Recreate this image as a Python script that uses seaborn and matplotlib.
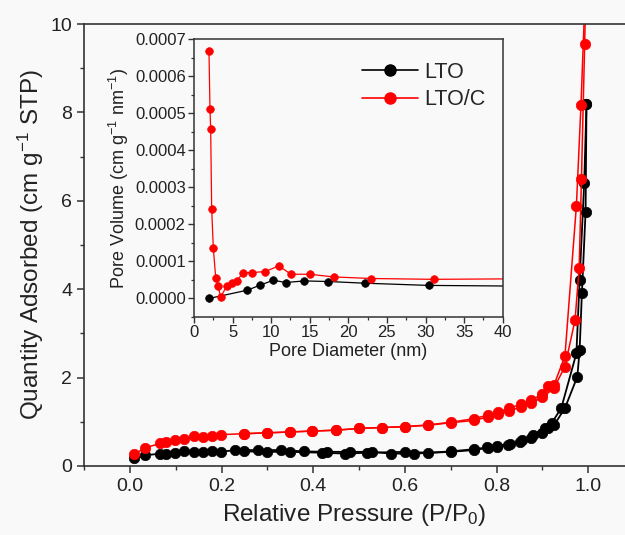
import matplotlib
matplotlib.use("Agg")
import matplotlib.pyplot as plt
import seaborn as sns
import pandas as pd
import numpy as np
from matplotlib.ticker import MultipleLocator, FormatStrFormatter
from matplotlib.lines import Line2D

# ---------------- data ----------------
# main isotherm: LTO (black)
lto_ads_p = [0.009, 0.033, 0.066, 0.079, 0.099, 0.119, 0.139, 0.159, 0.18, 0.199, 0.229, 0.28, 0.33, 0.38,
             0.43, 0.48, 0.528, 0.569, 0.62, 0.70, 0.75, 0.781, 0.80, 0.825, 0.85, 0.876, 0.898, 0.912,
             0.925, 0.949, 0.976, 0.981, 0.986, 0.994, 0.996]
lto_ads_q = [0.17, 0.24, 0.28, 0.28, 0.30, 0.33, 0.32, 0.32, 0.33, 0.32, 0.36, 0.36, 0.36, 0.33,
             0.32, 0.32, 0.32, 0.28, 0.28, 0.32, 0.36, 0.41, 0.44, 0.48, 0.55, 0.63, 0.74, 0.85,
             0.92, 1.31, 2.02, 2.62, 3.91, 5.75, 8.19]
lto_des_p = [0.996, 0.991, 0.981, 0.974, 0.941, 0.92, 0.905, 0.88, 0.855, 0.83, 0.80, 0.78, 0.75, 0.70,
             0.651, 0.60, 0.518, 0.47, 0.419, 0.349, 0.30, 0.248]
lto_des_q = [8.19, 6.40, 4.21, 2.55, 1.31, 0.97, 0.86, 0.70, 0.58, 0.50, 0.45, 0.42, 0.38, 0.33,
             0.30, 0.32, 0.30, 0.28, 0.30, 0.32, 0.32, 0.33]

# main isotherm: LTO/C (red)
ltoc_ads_p = [0.009, 0.033, 0.066, 0.079, 0.099, 0.119, 0.139, 0.159, 0.18, 0.199, 0.248, 0.30, 0.349,
              0.398, 0.45, 0.50, 0.549, 0.60, 0.651, 0.70, 0.75, 0.781, 0.803, 0.828, 0.854, 0.876,
              0.90, 0.925, 0.949, 0.971, 0.98, 0.985, 0.992, 0.996]
ltoc_ads_q = [0.26, 0.41, 0.51, 0.55, 0.58, 0.62, 0.67, 0.66, 0.67, 0.71, 0.73, 0.75, 0.77,
              0.79, 0.81, 0.85, 0.87, 0.89, 0.92, 0.98, 1.03, 1.11, 1.17, 1.25, 1.34, 1.43,
              1.55, 1.76, 2.25, 3.30, 4.47, 6.49, 9.54, 11.5]
ltoc_des_p = [0.996, 0.984, 0.974, 0.949, 0.925, 0.912, 0.90, 0.876, 0.854, 0.828, 0.803, 0.781, 0.75,
              0.70, 0.651, 0.60, 0.549, 0.50, 0.45, 0.398, 0.349, 0.30, 0.248]
ltoc_des_q = [11.5, 8.17, 5.89, 2.49, 1.83, 1.80, 1.62, 1.50, 1.40, 1.31, 1.22, 1.15, 1.07,
              0.99, 0.93, 0.89, 0.87, 0.85, 0.81, 0.79, 0.77, 0.75, 0.73]

# inset: pore size distribution
lto_d = [1.94, 6.91, 8.55, 10.28, 11.87, 14.3, 17.4, 22.2, 30.4, 50.0]
lto_v = [0.0, 0.0000223, 0.0000358, 0.0000492, 0.000043, 0.0000473, 0.0000457, 0.0000411, 0.0000352, 0.000032]
ltoc_d = [1.94, 2.07, 2.16, 2.29, 2.5, 2.81, 3.11, 3.45, 4.23, 4.88, 5.53, 6.39, 7.55, 9.2, 11.0,
          12.56, 15.0, 18.1, 23.0, 31.06, 50.0]
ltoc_v = [0.000668, 0.000511, 0.000458, 0.000242, 0.000137, 0.0000565, 0.0000339, 0.0000043,
          0.0000323, 0.0000411, 0.0000473, 0.0000699, 0.0000699, 0.0000726, 0.0000877, 0.0000653,
          0.0000653, 0.0000581, 0.0000538, 0.0000516, 0.000054]

series_names = ["LTO", "LTO/C"]
colors = {"LTO": "black", "LTO/C": "#ff0000"}

main_x_ticks = [0.0, 0.2, 0.4, 0.6, 0.8, 1.0]
main_y_ticks = [0, 2, 4, 6, 8, 10]
inset_x_ticks = [0, 5, 10, 15, 20, 25, 30, 35, 40]
inset_y_ticks = [0.0, 0.0001, 0.0002, 0.0003, 0.0004, 0.0005, 0.0006, 0.0007]

# ---------------- style ----------------
sns.set_theme(style="ticks")
plt.rcParams["font.family"] = ["Liberation Sans", "DejaVu Sans"]
plt.rcParams["mathtext.default"] = "regular"
bg = "#f9f9f9"
spine_c = "#333333"

fig = plt.figure(figsize=(6.25, 5.35), dpi=100, facecolor=bg)
ax = fig.add_axes([0.1344, 0.129, 0.8656, 0.826])
ax.set_facecolor(bg)


def branch(ax, p, q, name, ms, lw):
    df = pd.DataFrame({"x": p, "y": q})
    sns.lineplot(data=df, x="x", y="y", sort=False, estimator=None, ax=ax,
                 color=colors[name], marker="o", markersize=ms, markeredgecolor=colors[name],
                 markeredgewidth=0.5, linewidth=lw, legend=False)


branch(ax, lto_ads_p, lto_ads_q, "LTO", 7.5, 1.3)
branch(ax, lto_des_p, lto_des_q, "LTO", 7.5, 1.3)
branch(ax, ltoc_ads_p, ltoc_ads_q, "LTO/C", 7.5, 1.1)
branch(ax, ltoc_des_p, ltoc_des_q, "LTO/C", 7.5, 1.1)

ax.set_xlim(-0.1, 1.08)
ax.set_ylim(0, 10)
ax.set_xticks(main_x_ticks)
ax.set_yticks(main_y_ticks)
ax.xaxis.set_minor_locator(MultipleLocator(0.1))
ax.yaxis.set_minor_locator(MultipleLocator(1))
ax.xaxis.set_major_formatter(FormatStrFormatter("%.1f"))
ax.tick_params(axis="both", which="major", direction="out", length=5, width=1.1,
               color=spine_c, labelsize=14, labelcolor="#222222")
ax.tick_params(axis="both", which="minor", direction="out", length=3, width=1.0, color=spine_c)
ax.set_xlabel("Relative Pressure (P/P$_0$)", fontsize=17.5, color="#222222", labelpad=5)
ax.set_ylabel("Quantity Adsorbed (cm g$^{-1}$ STP)", fontsize=17.5, color="#222222", labelpad=3)
for s in ["left", "bottom", "top"]:
    ax.spines[s].set_color(spine_c)
    ax.spines[s].set_linewidth(1.2)
ax.spines["right"].set_visible(False)

# ---------------- inset ----------------
ins = fig.add_axes([0.3104, 0.4075, 0.4939, 0.5196])
ins.set_facecolor(bg)
df_i = pd.concat([
    pd.DataFrame({"d": lto_d, "v": lto_v, "s": "LTO"}),
    pd.DataFrame({"d": ltoc_d, "v": ltoc_v, "s": "LTO/C"}),
])
for name in series_names:
    sub = df_i[df_i["s"] == name]
    sns.lineplot(data=sub, x="d", y="v", sort=False, estimator=None, ax=ins,
                 color=colors[name], marker="o", markersize=5.5, markeredgecolor=colors[name],
                 markeredgewidth=0.5, linewidth=0.9, legend=False)
ins.set_xlim(0, 40)
ins.set_ylim(-0.00005, 0.0007)
ins.set_xticks(inset_x_ticks)
ins.set_yticks(inset_y_ticks)
ins.xaxis.set_minor_locator(MultipleLocator(2.5))
ins.yaxis.set_minor_locator(MultipleLocator(0.00005))
ins.yaxis.set_major_formatter(FormatStrFormatter("%.4f"))
ins.tick_params(axis="both", which="major", direction="out", length=4, width=1.0,
                color=spine_c, labelsize=12, labelcolor="#222222", pad=2)
ins.tick_params(axis="both", which="minor", direction="out", length=2.5, width=0.9, color=spine_c)
ins.set_xlabel("Pore Diameter (nm)", fontsize=13, color="#222222", labelpad=2)
ins.set_ylabel("Pore Volume (cm g$^{-1}$ nm$^{-1}$)", fontsize=13, color="#222222", labelpad=3)
for s in ins.spines.values():
    s.set_color(spine_c)
    s.set_linewidth(1.1)

handles = [Line2D([0], [0], color=colors[n], marker="o", markersize=8, linewidth=1.2) for n in series_names]
ins.legend(handles, series_names, loc="upper right", frameon=False, fontsize=15.5,
           handlelength=2.6, handletextpad=0.3, labelspacing=0.3, borderaxespad=0.4,
           bbox_to_anchor=(1.0, 0.98))

fig.savefig("out.png", dpi=100, facecolor=bg)
